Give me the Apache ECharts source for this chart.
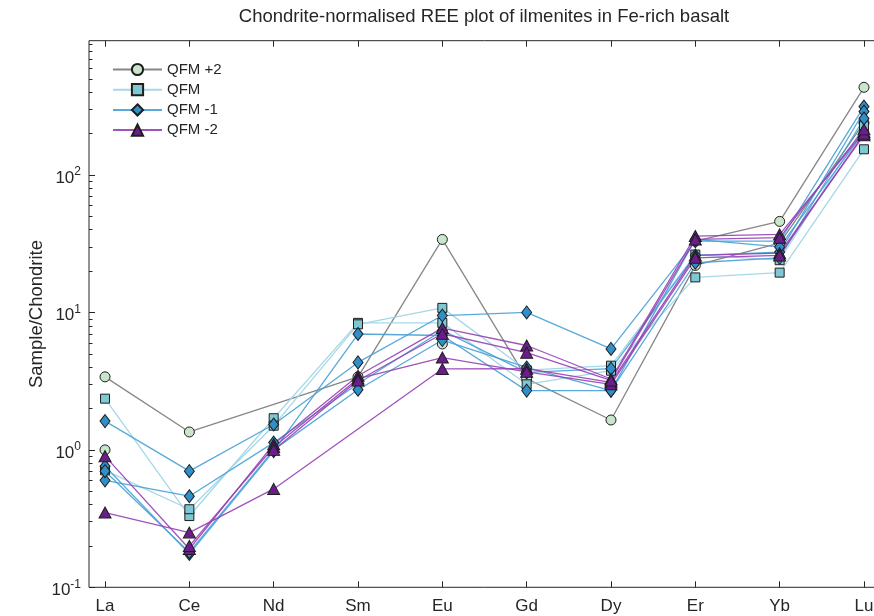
<!DOCTYPE html>
<html>
<head>
<meta charset="utf-8">
<script src="https://cdn.jsdelivr.net/npm/echarts@6/dist/echarts.min.js"></script>
<style>html,body{margin:0;padding:0;background:#fff;overflow:hidden;width:874px;height:616px}#c{width:890px;height:616px}</style>
</head>
<body>
<div id="c"></div>
<script>
// ---- data ----
const elements = ['La','Ce','Nd','Sm','Eu','Gd','Dy','Er','Yb','Lu'];
const groupNames = ['QFM +2','QFM','QFM -1','QFM -2'];

// QFM +2 samples (null = not measured)
const qfmPlus2 = [
  [3.4, 1.35, null, 3.4, 34, 3.3, 1.65, 22, 32, 240],
  [1.0, null, null, null, 5.9, null, null, 33, 46, 435]
];
const qfmPlus2Join = [true, false];

// QFM samples
const qfm = [
  [2.36, 0.33, 1.7, 8.4, 8.4, 3.0, 3.77, 18, 19.5, 154],
  [0.71, 0.37, 1.5, 8.2, 10.8, 3.8, 4.1, 26.4, 24, 227]
];
const qfmJoin = [true, true];

// QFM -1 samples
const qfmMinus1 = [
  [1.62, 0.70, 1.53, 4.33, 9.5, 10.0, 5.43, 33, 33, 315],
  [0.60, 0.46, 1.13, 3.03, 7.4, 3.66, 3.9, 26, 27.5, 290],
  [0.76, 0.175, 0.98, 6.97, 6.8, 2.7, 2.7, 23, 25, 258],
  [0.70, 0.18, 1.0, 2.74, 6.3, 3.98, 2.7, 34, 30, 206]
];
const qfmMinus1Join = [true, true, true, true];

// QFM -2 samples
const qfmMinus2 = [
  [0.35, 0.25, 0.52, null, 3.88, 3.9, 3.1, 26, 27, 195],
  [0.9, 0.19, 1.1, 3.46, 7.7, 5.75, 3.28, 36, 37, 206],
  [null, 0.2, 1.05, 3.3, 4.7, 3.7, 3.0, 25, 26, 200],
  [null, null, 1.0, 3.2, 7.0, 5.1, 3.2, 34, 35, 215]
];
const qfmMinus2Join = [true, true, true, true];

const yMajorTicks = [0.1, 1, 10, 100];
const yMinorTicks = [0.2,0.3,0.4,0.5,0.6,0.7,0.8,0.9,2,3,4,5,6,7,8,9,20,30,40,50,60,70,80,90,200,300,400,500,600,700,800,900];

// ---- styles ----
const FONT = 'Liberation Sans, Arial, Helvetica, sans-serif';
const TXT = '#262626';
const styles = [
  {line: 'rgba(128,128,128,0.95)', fill: '#c8e6cb', symbol: 'circle', size: 10},
  {line: 'rgba(160,214,230,0.95)', fill: '#7ec8d3', symbol: 'rect', size: 9},
  {line: 'rgba(70,160,214,0.9)', fill: '#2f8fc8', symbol: 'diamond', size: [10, 13]},
  {line: 'rgba(150,64,180,0.9)', fill: '#6b1d8c', symbol: 'triangle', size: [12, 11]}
];

function build(name, samples, join, st) {
  return samples.map((s, k) => ({
    type: 'line', name: name, xAxisIndex: 0, yAxisIndex: 0,
    data: s.map((v, i) => [i + 1, v === null ? null : v]),
    connectNulls: join[k], symbol: st.symbol, symbolSize: st.size, showSymbol: true,
    itemStyle: {color: st.fill, borderColor: '#1e1e1e', borderWidth: 1},
    lineStyle: {color: st.line, width: 1.3},
    emphasis: {disabled: true}, animation: false
  }));
}

const series = [].concat(
  build(groupNames[0], qfmPlus2, qfmPlus2Join, styles[0]),
  build(groupNames[1], qfm, qfmJoin, styles[1]),
  build(groupNames[2], qfmMinus1, qfmMinus1Join, styles[2]),
  build(groupNames[3], qfmMinus2, qfmMinus2Join, styles[3])
);

const xMin = 0.81, xMax = 10.19;
const yMin = 0.1, yMax = 950;
const xTickValues = elements.map((e, i) => i + 1);
const gridRect = {left: 89, top: 40.7, right: 10, bottom: 616 - 587.3};

const chart = echarts.init(document.getElementById('c'), null, {renderer: 'canvas', width: 890, height: 616});
chart.setOption({
  animation: false,
  backgroundColor: '#fff',
  title: {
    text: 'Chondrite-normalised REE plot of ilmenites in Fe-rich basalt',
    left: 484, top: 7, textAlign: 'center', padding: 0,
    textStyle: {fontFamily: FONT, fontSize: 18.5, fontWeight: 'normal', color: TXT}
  },
  legend: {
    data: groupNames, orient: 'vertical', left: 112, top: 62, padding: 0,
    itemWidth: 49, itemHeight: 14, itemGap: 5.2,
    textStyle: {fontFamily: FONT, fontSize: 15, color: TXT}, selectedMode: false
  },
  grid: [
    Object.assign({containLabel: false, outerBoundsMode: 'none', show: true,
      borderColor: TXT, borderWidth: 1, backgroundColor: 'transparent'}, gridRect),
    Object.assign({containLabel: false, outerBoundsMode: 'none', show: false}, gridRect)
  ],
  xAxis: [
    {
      type: 'value', gridIndex: 0, min: xMin, max: xMax, position: 'bottom',
      axisLine: {show: false, onZero: false},
      axisTick: {inside: true, length: 6, customValues: xTickValues, lineStyle: {color: TXT}},
      axisLabel: {customValues: xTickValues, formatter: v => elements[Math.round(v) - 1] || '',
        fontFamily: FONT, fontSize: 17, color: TXT, margin: 11},
      splitLine: {show: false}
    },
    {
      type: 'value', gridIndex: 0, min: xMin, max: xMax, position: 'top',
      axisLine: {show: false, onZero: false},
      axisTick: {inside: true, length: 6, customValues: xTickValues, lineStyle: {color: TXT}},
      axisLabel: {show: false}, splitLine: {show: false}
    },
    {
      type: 'value', gridIndex: 1, min: xMin, max: xMax, show: false
    }
  ],
  yAxis: [
    {
      type: 'log', gridIndex: 0, logBase: 10, min: yMin, max: yMax, position: 'left',
      name: 'Sample/Chondrite', nameLocation: 'middle', nameGap: 43, nameMoveOverlap: false,
      nameTextStyle: {fontFamily: FONT, fontSize: 18.5, color: TXT},
      axisLine: {show: false, onZero: false},
      axisTick: {show: true, inside: true, length: 6, customValues: yMajorTicks, lineStyle: {color: TXT}},
      axisLabel: {
        customValues: yMajorTicks,
        formatter: v => '{b|10}{s|' + Math.round(Math.log10(v)) + '}',
        margin: 8,
        rich: {
          b: {fontFamily: FONT, fontSize: 17, color: TXT, padding: [6, 0, 0, 0]},
          s: {fontFamily: FONT, fontSize: 12, color: TXT, padding: [0, 0, 6, 0]}
        }
      },
      splitLine: {show: false}
    },
    {
      type: 'log', gridIndex: 1, logBase: 10, min: yMin, max: yMax, position: 'left',
      axisLine: {show: false, onZero: false},
      axisTick: {show: true, inside: true, length: 3.5, customValues: yMinorTicks, lineStyle: {color: TXT}},
      axisLabel: {show: false}, splitLine: {show: false}
    }
  ],
  series: series
});
</script>
</body>
</html>
